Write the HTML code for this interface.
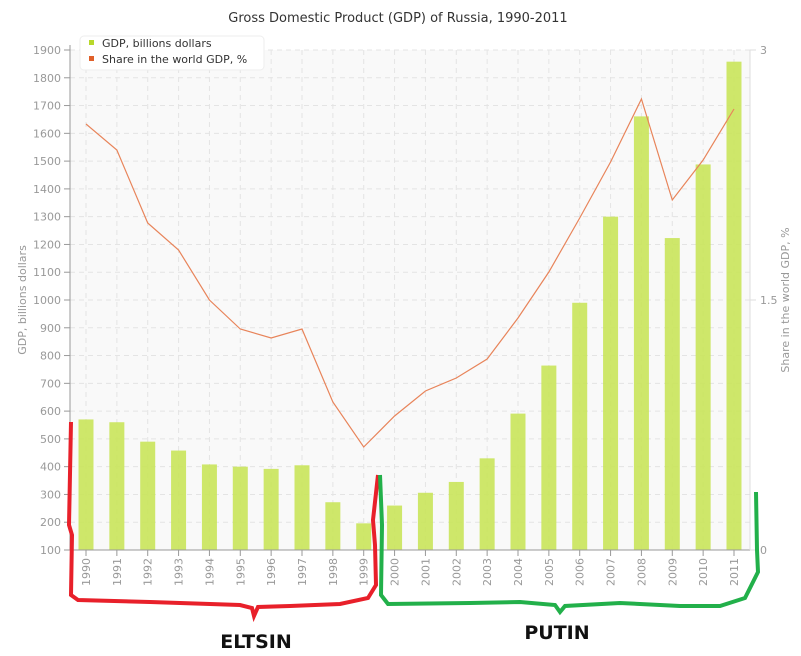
<!DOCTYPE html>
<html><head><style>body{margin:0;background:#fff}svg{display:block;font-family:"DejaVu Sans","Liberation Sans",sans-serif}</style></head><body>
<svg width="801" height="656" viewBox="0 0 801 656" xmlns="http://www.w3.org/2000/svg">
<rect x="70" y="50" width="680" height="500" fill="#f9f9f9"/>
<g id="g"></g>
<text x="398" y="22" text-anchor="middle" font-size="13" fill="#333">Gross Domestic Product (GDP) of Russia, 1990-2011</text>
<text transform="translate(26,300) rotate(-90)" text-anchor="middle" font-size="11" fill="#999">GDP, billions dollars</text>
<text transform="translate(789,300) rotate(-90)" text-anchor="middle" font-size="11" fill="#999">Share in the world GDP, %</text>
<text x="256" y="648" text-anchor="middle" font-size="19" font-weight="bold" fill="#111">ELTSIN</text>
<text x="557" y="639" text-anchor="middle" font-size="19" font-weight="bold" fill="#111">PUTIN</text>
</svg>
<script>
var s='';
var gdp=[570,560,490,458,408,400,392,405,272,196,260,306,345,430,591,764,990,1300,1661,1223,1488,1858];
var ly=[124,150,223,250,300,329,338,329,402,447,416,391,378,359,318,272,218,162,99,200,160,109];
function Y(v){return 550-(v-100)*500/1800;}
for(var v=100;v<=1900;v+=100){var y=Y(v);
 s+='<line x1="70" x2="750" y1="'+y+'" y2="'+y+'" stroke="#e4e4e4" stroke-dasharray="5,4"/>';
 s+='<line x1="64" x2="70" y1="'+y+'" y2="'+y+'" stroke="#999"/>';
 s+='<text x="61" y="'+(y+4)+'" text-anchor="end" font-size="11" fill="#999">'+v+'</text>';}
var pts=[];
for(var i=0;i<22;i++){var x=86+i*30.857;
 s+='<line x1="'+x+'" x2="'+x+'" y1="50" y2="550" stroke="#e4e4e4" stroke-dasharray="5,4"/>';
 var t=Y(gdp[i]);
 s+='<rect x="'+(x-7.5)+'" y="'+t+'" width="15" height="'+(550-t)+'" fill="#c9e45a" opacity="0.9"/>';
 s+='<line x1="'+x+'" x2="'+x+'" y1="550" y2="556" stroke="#999"/>';
 s+='<text transform="translate('+(x+4)+',558) rotate(-90)" text-anchor="end" font-size="11" fill="#999">'+(1990+i)+'</text>';
 pts.push(x+','+ly[i]);}
s+='<polyline points="'+pts.join(' ')+'" fill="none" stroke="#e8845a" stroke-width="1.2"/>';
s+='<line x1="70" x2="70" y1="45" y2="550" stroke="#999"/><line x1="70" x2="750" y1="550" y2="550" stroke="#999"/>';
s+='<line x1="750" x2="750" y1="50" y2="550" stroke="#ddd"/>';
[[0,550],[1.5,300],[3,50]].forEach(function(a){s+='<line x1="750" x2="756" y1="'+a[1]+'" y2="'+a[1]+'" stroke="#ddd"/><text x="760" y="'+(a[1]+4)+'" font-size="11" fill="#999">'+a[0]+'</text>';});
s+='<rect x="80" y="36" width="184" height="34" rx="4" fill="#fff" stroke="#eee"/>';
s+='<rect x="89" y="40" width="5" height="5" fill="#b8d82a"/><text x="102" y="47" font-size="11" fill="#333">GDP, billions dollars</text>';
s+='<rect x="89" y="56" width="5" height="5" fill="#e0602a"/><text x="102" y="63" font-size="11" fill="#333">Share in the world GDP, %</text>';
s+='<path d="M71,422 L69,525 L72,535 L71,595 L78,600 L150,602 L240,605 L252,608 L254,616 L258,607 L290,606 L340,604 L368,598 L376,585 L375,545 L373,520 L378,475" fill="none" stroke="#e8202a" stroke-width="4"/>';
s+='<path d="M380,475 L382,525 L381,595 L388,604 L470,603 L520,602 L555,605 L560,612 L565,606 L620,603 L680,606 L720,606 L745,598 L758,572 L757,550 L756,492" fill="none" stroke="#22b04a" stroke-width="4"/>';
document.getElementById('g').innerHTML=s;
</script>
</body></html>
